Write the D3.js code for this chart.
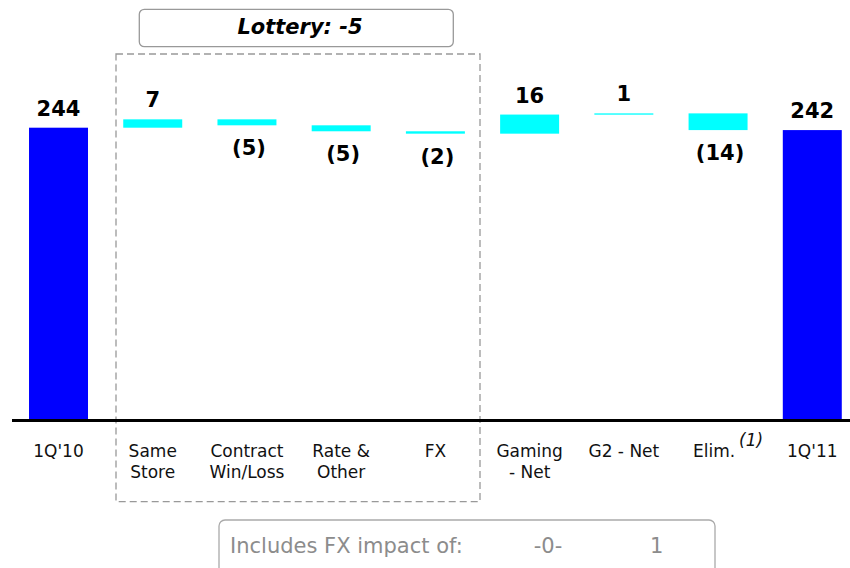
<!DOCTYPE html>
<html>
<head>
<meta charset="utf-8">
<script src="https://cdn.jsdelivr.net/npm/d3@7"></script>
<style>
    body { margin: 0; background: #fff; }
    text { font-family: "DejaVu Sans", Verdana, sans-serif; }
</style>
</head>
<body>
<div class="graph-bridge"></div>
<script>
const categories = ["1Q'10", "Same Store", "Contract Win/Loss", "Rate & Other", "FX", "Gaming - Net", "G2 - Net", "Elim.", "1Q'11"];
const categoryLines = [["1Q'10"], ["Same", "Store"], ["Contract", "Win/Loss"], ["Rate &", "Other"], ["FX"], ["Gaming", "- Net"], ["G2 - Net"], ["Elim."], ["1Q'11"]];
const startValue = 244;
const changes = [7, -5, -5, -2, 16, 1, -14];
const endValue = 242;
const lotteryText = "Lottery: -5";
const fxNoteLabel = "Includes FX impact of:";
const fxNoteValues = ["-0-", "1"];

const width = 850;
const height = 568;
const baseY = 419;

// build the bridge: each step has a start and end level
let running = startValue;
const steps = [{ name: categories[0], y0: 0, y1: startValue, value: startValue, total: true }];
changes.forEach(function (c, i) {
    steps.push({ name: categories[i + 1], y0: running, y1: running + c, value: c, total: false });
    running += c;
});
steps.push({ name: categories[8], y0: 0, y1: endValue, value: endValue, total: true });

const x = d3.scaleBand()
    .domain(categories)
    .range([11.4, 859.4])
    .paddingInner(0.374)
    .paddingOuter(0.187);

const y = d3.scaleLinear()
    .domain([0, 244])
    .range([baseY, 127.7]);

const svg = d3.select(".graph-bridge")
    .append('svg')
    .attr('width', width)
    .attr('height', height);

// dashed lottery group box
svg.append('rect')
    .attr('x', 116)
    .attr('y', 54)
    .attr('width', 364)
    .attr('height', 447.7)
    .attr('fill', 'none')
    .attr('stroke', '#999')
    .attr('stroke-width', 1.3)
    .attr('stroke-dasharray', '7,4');

svg.append('rect')
    .attr('x', 139.3)
    .attr('y', 9.3)
    .attr('width', 314)
    .attr('height', 37.4)
    .attr('rx', 5)
    .attr('fill', '#fff')
    .attr('stroke', '#999')
    .attr('stroke-width', 1.3);

svg.append('text')
    .attr('x', 300)
    .attr('y', 34)
    .attr('text-anchor', 'middle')
    .style('font-size', '21px')
    .style('font-weight', 'bold')
    .style('font-style', 'italic')
    .text(lotteryText);

// bars
svg.selectAll('rect.bar')
    .data(steps)
    .enter()
    .append('rect')
    .attr('class', 'bar')
    .attr('x', d => x(d.name))
    .attr('width', x.bandwidth())
    .attr('y', d => y(Math.max(d.y0, d.y1)))
    .attr('height', d => Math.max(1.3, Math.abs(y(d.y0) - y(d.y1))))
    .attr('fill', d => d.total ? '#0000ff' : '#00ffff');

// value labels
svg.selectAll('text.value')
    .data(steps)
    .enter()
    .append('text')
    .attr('class', 'value')
    .attr('x', d => x(d.name) + x.bandwidth() / 2 + (d.value < 0 ? 2 : 0))
    .attr('y', function (d) {
        if (d.value < 0) return y(Math.min(d.y0, d.y1)) + 30;
        return y(Math.max(d.y0, d.y1)) - 12;
    })
    .attr('text-anchor', 'middle')
    .style('font-size', '21px')
    .style('font-weight', 'bold')
    .text(d => d.value < 0 ? '(' + Math.abs(d.value) + ')' : d.value);

// axis line
svg.append('line')
    .attr('x1', 12)
    .attr('x2', width)
    .attr('y1', baseY + 1.5)
    .attr('y2', baseY + 1.5)
    .attr('stroke', '#000')
    .attr('stroke-width', 3);

// category labels
const cat = svg.selectAll('text.cat')
    .data(categories)
    .enter()
    .append('text')
    .attr('class', 'cat')
    .attr('x', (d, i) => x(d) + x.bandwidth() / 2 - (d === 'Elim.' ? 4 : 0))
    .attr('y', 456.7)
    .attr('text-anchor', 'middle')
    .style('font-size', '17px')
    .style('fill', '#111');

cat.selectAll('tspan')
    .data((d, i) => categoryLines[i])
    .enter()
    .append('tspan')
    .attr('x', function () { return d3.select(this.parentNode).attr('x'); })
    .attr('dy', (d, i) => i === 0 ? 0 : 21.6)
    .text(d => d);

svg.append('text')
    .attr('x', 739)
    .attr('y', 446)
    .style('font-size', '17px')
    .style('font-style', 'italic')
    .style('fill', '#111')
    .text('(1)');

// fx note box
svg.append('rect')
    .attr('x', 219)
    .attr('y', 520)
    .attr('width', 496)
    .attr('height', 70)
    .attr('rx', 6)
    .attr('fill', 'none')
    .attr('stroke', '#aaa')
    .attr('stroke-width', 1.3);

svg.append('text')
    .attr('x', 230)
    .attr('y', 553)
    .style('font-size', '21px')
    .style('fill', '#8c8c8c')
    .text(fxNoteLabel);

svg.selectAll('text.fxv')
    .data(fxNoteValues)
    .enter()
    .append('text')
    .attr('class', 'fxv')
    .attr('x', (d, i) => [548, 656.7][i])
    .attr('y', 553)
    .attr('text-anchor', 'middle')
    .style('font-size', '21px')
    .style('fill', '#8c8c8c')
    .text(d => d);
</script>
</body>
</html>
